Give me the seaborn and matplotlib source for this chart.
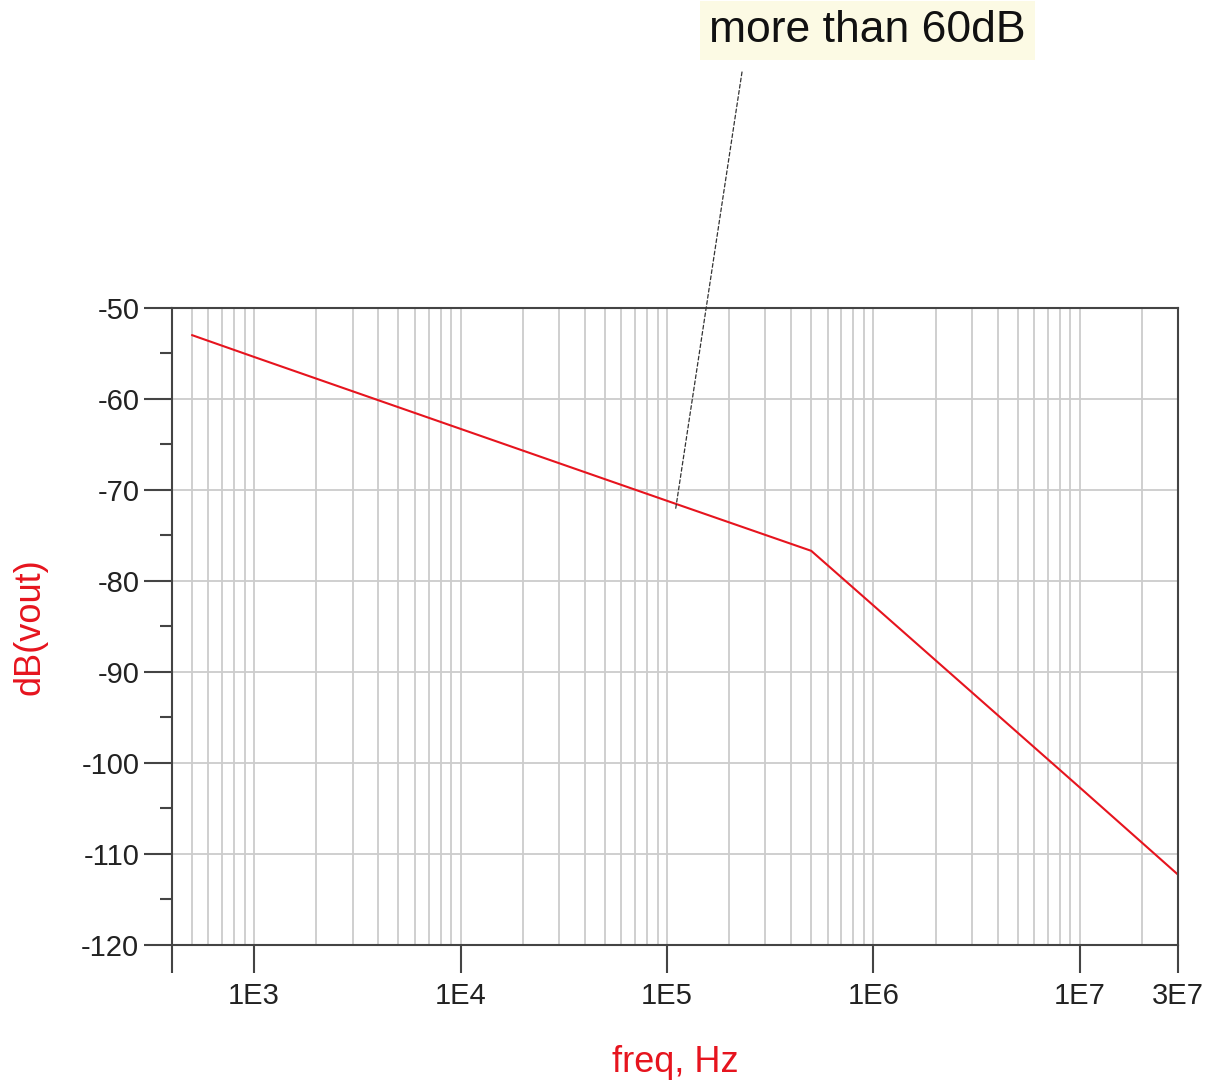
import numpy as np
import pandas as pd
import matplotlib
matplotlib.use('Agg')
import matplotlib.pyplot as plt
import seaborn as sns

sns.set_style('white')
plt.rcParams['font.family'] = ['Liberation Sans', 'DejaVu Sans']
plt.rcParams['axes.unicode_minus'] = False

# data
freq = [500, 1e3, 1e4, 1e5, 5e5, 1e6, 1e7, 3e7]
dbvout = [-53.0, -55.4, -63.3, -71.2, -76.7, -82.7, -102.7, -112.3]
xtick_vals = [400, 1e3, 1e4, 1e5, 1e6, 1e7, 3e7]
xtick_labels = ['', '1E3', '1E4', '1E5', '1E6', '1E7', '3E7']
ytick_vals = [-120, -110, -100, -90, -80, -70, -60, -50]
note = 'more than 60dB'
note_freq, note_db = 1.1e5, -72.2

df = pd.DataFrame({'freq': freq, 'dB(vout)': dbvout})

fig = plt.figure(figsize=(12.11, 10.8), dpi=100)
ax = fig.add_axes([0.142, 0.125, 0.831, 0.590])

# grid: decade + minor lines on x, every 10 dB on y
minor_x = [m * 10**d for d in range(2, 8) for m in range(2, 10)]
minor_x = [v for v in minor_x if 400 < v < 3e7]
for v in minor_x + xtick_vals[1:-1]:
    ax.axvline(v, color='#cccccc', lw=1.3, zorder=0)
for v in ytick_vals[1:-1]:
    ax.axhline(v, color='#cccccc', lw=1.3, zorder=0)

sns.lineplot(data=df, x='freq', y='dB(vout)', ax=ax, color='#e6141e', lw=1.5)

ax.set_xscale('log')
ax.set_xlim(400, 3e7)
ax.set_ylim(-120, -50)
ax.set_xticks(xtick_vals)
ax.set_xticklabels(xtick_labels)
ax.xaxis.set_minor_locator(matplotlib.ticker.NullLocator())
ax.set_yticks(ytick_vals)
ax.set_yticks(np.arange(-115, -50, 10), minor=True)
ax.tick_params(axis='both', which='major', direction='out', length=20, width=1.5,
               color='#444444', labelsize=21, labelcolor='#222222', bottom=True, left=True)
ax.tick_params(axis='x', which='major', pad=7)
ax.tick_params(axis='y', which='major', pad=3.5)
ax.tick_params(axis='y', which='minor', direction='out', length=9, width=1.5, color='#444444', left=True)
for s in ax.spines.values():
    s.set_color('#444444')
    s.set_linewidth(1.5)

ax.set_xlabel('freq, Hz', color='#e6141e', fontsize=26, labelpad=25)
ax.set_ylabel('dB(vout)', color='#e6141e', fontsize=26, labelpad=24)

fig.text(0.5855, 0.972, note, fontsize=32, color='#111111', va='center', ha='left',
         bbox=dict(boxstyle='square,pad=0.2', facecolor='#fcfae4', edgecolor='none'))
ax.annotate('', xy=(note_freq, note_db), xytext=(742 / 1211, 1 - 72 / 1080),
            textcoords='figure fraction',
            arrowprops=dict(arrowstyle='-', linestyle=(0, (3, 2)), color='#333333', lw=0.9,
                            shrinkA=0, shrinkB=0))

fig.savefig('out.png', dpi=100)
